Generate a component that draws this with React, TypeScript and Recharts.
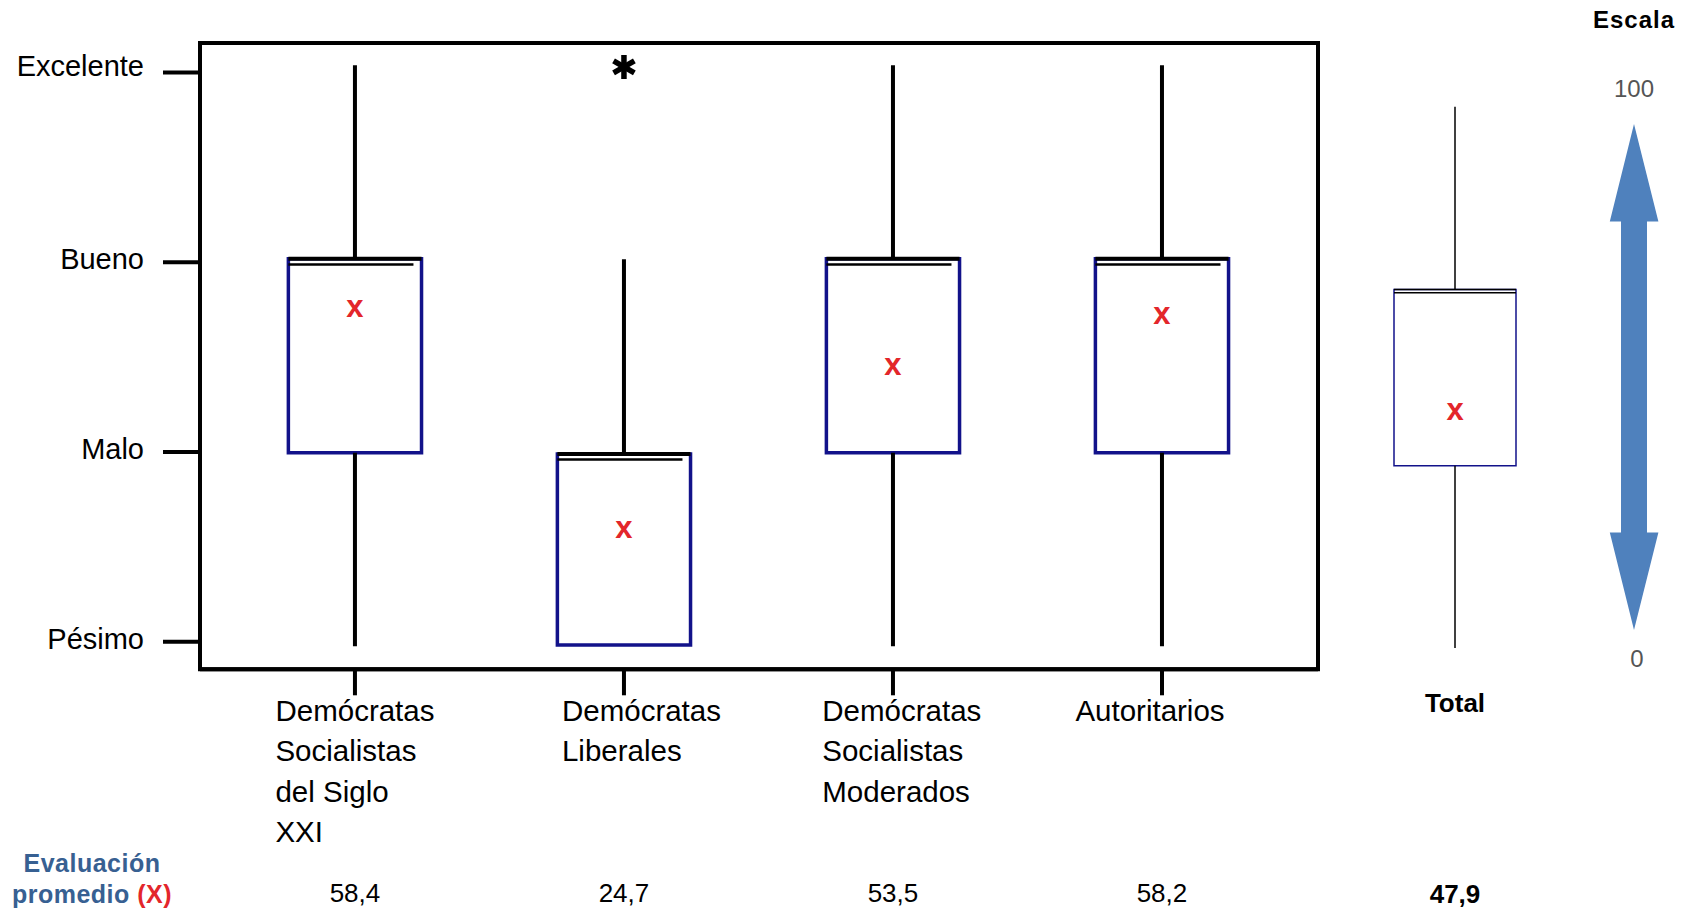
import React from 'react';
import { ComposedChart, XAxis, YAxis, ReferenceArea, ReferenceLine, Scatter } from 'recharts';

// ---------- data ----------
const categories = [
  'Demócratas\nSocialistas\ndel Siglo\nXXI',
  'Demócratas\nLiberales',
  'Demócratas\nSocialistas\nModerados',
  'Autoritarios',
];
const yTickValues = [0, 33.33, 66.67, 100];
const yTickLabels = ['Pésimo', 'Malo', 'Bueno', 'Excelente'];
const meanValues = [58.4, 24.7, 53.5, 58.2];
const meanMarkerY = [58.6, 19.7, 48.4, 57.3];
const q1 = [33.2, -0.6, 33.2, 33.2];
const medians = [66.3, 32.0, 66.3, 66.3];
const q3 = [67.3, 33.0, 67.3, 67.3];
const whiskerLow = [-0.8, -0.6, -0.8, -0.8];
const whiskerHigh = [101.3, 67.2, 101.3, 101.3];
const outlierCategory = [2];
const outlierValue = [101.0];

const totalLabel = 'Total';
const totalMean = 47.9;
const totalMeanMarkerY = 40.4;
const totalQ1 = 30.9;
const totalMedian = 61.3;
const totalQ3 = 61.9;
const totalWhiskerLow = -1.1;
const totalWhiskerHigh = 94.0;

const scaleTitle = 'Escala';
const scaleTop = '100';
const scaleBottom = '0';
const rowTitle1 = 'Evaluación';
const rowTitle2 = 'promedio ';
const rowTitle3 = '(X)';

// ---------- layout ----------
const FONT = "'Liberation Sans', Arial, sans-serif";
const Y_DOMAIN: [number, number] = [-4.85, 105.2];
const X_DOMAIN: [number, number] = [0.424, 4.58];
const BOX_HALF = 0.2475;
const labelDx = [-79.5, -62, -70.7, -86.6];
const yLabelDy = [-3, -3, -3, -7];
const NAVY = '#12128a';
const RED = '#e3262b';

const fmt = (v: number) => v.toFixed(1).replace('.', ',');

const catX = categories.map((_, i) => i + 1);
const meanPoints = catX.map((x, i) => ({ x, y: meanMarkerY[i] }));
const outlierPoints = outlierCategory.map((c, i) => ({ x: c, y: outlierValue[i] }));

const CategoryTick = (props: any) => {
  const { x, y, payload } = props;
  const i = Math.round(payload.value) - 1;
  if (i < 0 || i >= categories.length) return null;
  const lines = categories[i].split('\n');
  const lx = x + labelDx[i];
  return (
    <g>
      <text fontFamily={FONT} fontSize={29.5} fill="#000">
        {lines.map((l, k) => (
          <tspan key={k} x={lx} y={y + 25.5 + k * 40.5}>{l}</tspan>
        ))}
      </text>
      <text x={x} y={y + 207} textAnchor="middle" fontFamily={FONT} fontSize={26} fill="#000">
        {fmt(meanValues[i])}
      </text>
    </g>
  );
};

const YTick = (props: any) => {
  const { x, y, payload } = props;
  const i = yTickValues.indexOf(payload.value);
  if (i < 0) return null;
  return (
    <text x={x} y={y + yLabelDy[i] + 10} textAnchor="end" fontFamily={FONT} fontSize={29} fill="#000">
      {yTickLabels[i]}
    </text>
  );
};

const TotalTick = (props: any) => {
  const { x, y } = props;
  return (
    <g>
      <text x={x} y={y + 16.7} textAnchor="middle" fontFamily={FONT} fontSize={26} fontWeight="bold" fill="#000">
        {totalLabel}
      </text>
      <text x={x} y={y + 207.5} textAnchor="middle" fontFamily={FONT} fontSize={26} fontWeight="bold" fill="#000">
        {fmt(totalMean)}
      </text>
    </g>
  );
};

const MeanMark = (props: any) => {
  const { cx, cy } = props;
  if (cx == null || cy == null) return null;
  return (
    <text x={cx} y={cy + 8.5} textAnchor="middle" fontFamily={FONT} fontSize={31} fontWeight="bold" fill={RED}>
      x
    </text>
  );
};

const StarMark = (props: any) => {
  const { cx, cy } = props;
  if (cx == null || cy == null) return null;
  const r = 12;
  const segs = [90, 30, 150].map((a) => {
    const rad = (a * Math.PI) / 180;
    return { dx: r * Math.cos(rad), dy: r * Math.sin(rad) };
  });
  return (
    <g>
      {segs.map((s, k) => (
        <line key={k} x1={cx - s.dx} y1={cy - s.dy} x2={cx + s.dx} y2={cy + s.dy} stroke="#000" strokeWidth={5.5} />
      ))}
    </g>
  );
};

export default function App() {
  return (
    <div style={{ position: 'absolute', left: 0, top: 0, width: 1694, height: 910, background: '#fff' }}>
      <div style={{ position: 'absolute', left: 0, top: 0 }}>
        <ComposedChart width={1340} height={910} margin={{ top: 43, right: 22, bottom: 0, left: 0 }}>
          <XAxis
            dataKey="x"
            type="number"
            domain={X_DOMAIN}
            allowDataOverflow
            ticks={catX}
            interval={0}
            height={240.7}
            tickSize={26}
            tickMargin={0}
            axisLine={{ stroke: '#000', strokeWidth: 4 }}
            tickLine={{ stroke: '#000', strokeWidth: 4 }}
            tick={<CategoryTick />}
          />
          <YAxis
            dataKey="y"
            type="number"
            domain={Y_DOMAIN}
            allowDataOverflow
            ticks={yTickValues}
            interval={0}
            width={200}
            tickSize={37}
            tickMargin={19}
            axisLine={{ stroke: '#000', strokeWidth: 4 }}
            tickLine={{ stroke: '#000', strokeWidth: 4 }}
            tick={<YTick />}
          />
          <ReferenceArea
            x1={X_DOMAIN[0]}
            x2={X_DOMAIN[1]}
            y1={Y_DOMAIN[0]}
            y2={Y_DOMAIN[1]}
            fill="none"
            fillOpacity={0}
            stroke="#000"
            strokeWidth={4}
            ifOverflow="visible"
          />
          {catX.map((x, i) => (
            <ReferenceLine
              key={'wh' + i}
              segment={[{ x, y: q3[i] }, { x, y: whiskerHigh[i] }]}
              stroke="#000"
              strokeWidth={4}
            />
          ))}
          {catX.map((x, i) =>
            whiskerLow[i] < q1[i] - 0.01 ? (
              <ReferenceLine
                key={'wl' + i}
                segment={[{ x, y: q1[i] }, { x, y: whiskerLow[i] }]}
                stroke="#000"
                strokeWidth={4}
              />
            ) : null
          )}
          {catX.map((x, i) => (
            <ReferenceArea
              key={'box' + i}
              x1={x - BOX_HALF}
              x2={x + BOX_HALF}
              y1={q1[i]}
              y2={q3[i]}
              fill="#fff"
              fillOpacity={1}
              stroke={NAVY}
              strokeWidth={3.5}
            />
          ))}
          {catX.map((x, i) => (
            <ReferenceLine
              key={'q3' + i}
              segment={[{ x: x - BOX_HALF, y: q3[i] }, { x: x + BOX_HALF, y: q3[i] }]}
              stroke="#000"
              strokeWidth={4}
            />
          ))}
          {catX.map((x, i) => (
            <ReferenceLine
              key={'md' + i}
              segment={[{ x: x - BOX_HALF, y: medians[i] }, { x: x + BOX_HALF - 0.03, y: medians[i] }]}
              stroke="#000"
              strokeWidth={2.5}
            />
          ))}
          <Scatter data={meanPoints} dataKey="y" isAnimationActive={false} shape={<MeanMark />} />
          <Scatter data={outlierPoints} dataKey="y" isAnimationActive={false} shape={<StarMark />} />
        </ComposedChart>
      </div>

      <div style={{ position: 'absolute', left: 1330, top: 0 }}>
        <ComposedChart width={250} height={910} margin={{ top: 43, right: 0, bottom: 0, left: 0 }}>
          <XAxis
            dataKey="x"
            type="number"
            domain={[0, 2]}
            allowDataOverflow
            ticks={[1]}
            interval={0}
            height={240.7}
            tickSize={26}
            tickMargin={0}
            axisLine={false}
            tickLine={false}
            tick={<TotalTick />}
          />
          <YAxis dataKey="y" type="number" domain={Y_DOMAIN} allowDataOverflow hide />
          <ReferenceLine segment={[{ x: 1, y: totalQ3 }, { x: 1, y: totalWhiskerHigh }]} stroke="#000" strokeWidth={1.5} />
          <ReferenceLine segment={[{ x: 1, y: totalQ1 }, { x: 1, y: totalWhiskerLow }]} stroke="#000" strokeWidth={1.5} />
          <ReferenceArea x1={1 - 0.488} x2={1 + 0.488} y1={totalQ1} y2={totalQ3} fill="#fff" fillOpacity={1} stroke={NAVY} strokeWidth={1.5} />
          <ReferenceLine segment={[{ x: 1 - 0.488, y: totalQ3 }, { x: 1 + 0.488, y: totalQ3 }]} stroke="#000" strokeWidth={1.5} />
          <ReferenceLine segment={[{ x: 1 - 0.488, y: totalMedian }, { x: 1 + 0.488, y: totalMedian }]} stroke="#000" strokeWidth={1.5} />
          <Scatter data={[{ x: 1, y: totalMeanMarkerY }]} dataKey="y" isAnimationActive={false} shape={<MeanMark />} />
        </ComposedChart>
      </div>

      <svg width={1694} height={910} style={{ position: 'absolute', left: 0, top: 0, pointerEvents: 'none' }}>
        <text x={1634} y={28} textAnchor="middle" fontFamily={FONT} fontSize={24} fontWeight="bold" letterSpacing={1} fill="#000">
          {scaleTitle}
        </text>
        <text x={1634} y={97} textAnchor="middle" fontFamily={FONT} fontSize={24} fill="#555">
          {scaleTop}
        </text>
        <text x={1637} y={667} textAnchor="middle" fontFamily={FONT} fontSize={24} fill="#555">
          {scaleBottom}
        </text>
        <polygon
          points="1634,124 1658.4,221.5 1647,221.5 1647,532.6 1658.4,532.6 1634,630 1609.8,532.6 1621,532.6 1621,221.5 1609.8,221.5"
          fill="#4f81bd"
        />
        <text x={92} y={872} textAnchor="middle" fontFamily={FONT} fontSize={25} fontWeight="bold" letterSpacing={0.5} fill="#376092">
          {rowTitle1}
        </text>
        <text x={92} y={903} textAnchor="middle" fontFamily={FONT} fontSize={25} fontWeight="bold" letterSpacing={0.5} fill="#376092">
          {rowTitle2}
          <tspan fill={RED}>{rowTitle3}</tspan>
        </text>
      </svg>
    </div>
  );
}
